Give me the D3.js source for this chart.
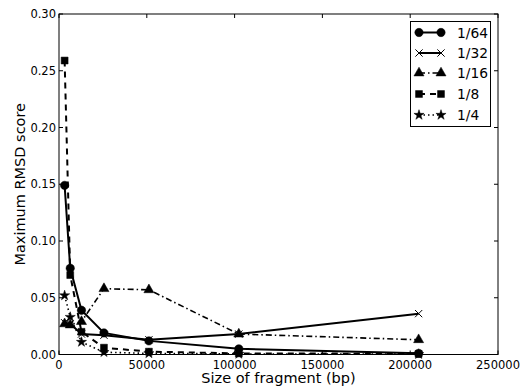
<!DOCTYPE html>
<html>
<head>
<meta charset="utf-8">
<script src="https://cdn.jsdelivr.net/npm/d3@7"></script>
<style>
    body { margin: 0; background: #fff; }
    svg { display: block; font-family: "DejaVu Sans", sans-serif; }
    .tick-label { font-size: 11.5px; fill: #000; }
    .axis-title { font-size: 14.5px; fill: #000; }
    .legend-label { font-size: 13.8px; fill: #000; }
</style>
</head>
<body>
<div id="chart"></div>
<script>
// fragment sizes (bp)
const fragmentSizes = [3200, 6400, 12800, 25600, 51200, 102400, 204800];

const seriesNames = ["1/64", "1/32", "1/16", "1/8", "1/4"];

const values64 = [0.149, 0.076, 0.039, 0.019, 0.012, 0.005, 0.001];
const values32 = [0.028, 0.027, 0.018, 0.017, 0.013, 0.018, 0.036];
const values16 = [0.027, 0.026, 0.029, 0.058, 0.057, 0.018, 0.013];
const values8 = [0.259, 0.070, 0.020, 0.006, 0.0025, 0.001, 0.0006];
const values4 = [0.052, 0.033, 0.011, 0.002, 0.001, 0.0005, 0.0003];

const xTicks = [0, 50000, 100000, 150000, 200000, 250000];
const yTicks = [0, 0.05, 0.10, 0.15, 0.20, 0.25, 0.30];

const seriesStyles = [
    { values: values64, symbol: "circle", dash: null, width: 2 },
    { values: values32, symbol: "times", dash: null, width: 2 },
    { values: values16, symbol: "triangle", dash: "6,3,1.5,3", width: 1.6 },
    { values: values8, symbol: "square", dash: "6,5", width: 2 },
    { values: values4, symbol: "star", dash: "1.5,3", width: 1.6 }
];

const width = 530;
const height = 389;
const margin = { top: 14, right: 32, bottom: 34.5, left: 59 };

const svg = d3.select("#chart")
    .append("svg")
    .attr("width", width)
    .attr("height", height);

const x = d3.scaleLinear()
    .domain([0, 250000])
    .range([margin.left, width - margin.right]);

const y = d3.scaleLinear()
    .domain([0, 0.30])
    .range([height - margin.bottom, margin.top]);

const plotLeft = x.range()[0];
const plotRight = x.range()[1];
const plotTop = y.range()[1];
const plotBottom = y.range()[0];

function symbolPath(name, size) {
    const types = {
        circle: d3.symbolCircle,
        square: d3.symbolSquare,
        triangle: d3.symbolTriangle,
        star: d3.symbolStar,
        times: d3.symbolTimes || d3.symbolX || d3.symbolCross
    };
    return d3.symbol().type(types[name]).size(size)();
}

function symbolSize(name) {
    if (name === "circle") return 55;
    if (name === "square") return 48;
    if (name === "triangle") return 44;
    if (name === "star") return 32;
    return 36;
}

function drawMarker(g, name, cx, cy) {
    const isStroke = name === "times";
    g.append("path")
        .attr("d", symbolPath(name, symbolSize(name)))
        .attr("transform", "translate(" + cx + "," + cy + ")")
        .attr("fill", isStroke ? "none" : "#000")
        .attr("stroke", "#000")
        .attr("stroke-width", isStroke ? 1 : 0.5);
}

// series
const line = d3.line()
    .x(function(d) { return x(d[0]); })
    .y(function(d) { return y(d[1]); });

const plot = svg.append("g");

seriesStyles.forEach(function(s) {
    const pts = fragmentSizes.map(function(f, i) { return [f, s.values[i]]; });
    plot.append("path")
        .datum(pts)
        .attr("d", line)
        .attr("fill", "none")
        .attr("stroke", "#000")
        .attr("stroke-width", s.width)
        .attr("stroke-dasharray", s.dash);
});

seriesStyles.forEach(function(s) {
    fragmentSizes.forEach(function(f, i) {
        drawMarker(plot, s.symbol, x(f), y(s.values[i]));
    });
});

// frame
svg.append("rect")
    .attr("x", plotLeft)
    .attr("y", plotTop)
    .attr("width", plotRight - plotLeft)
    .attr("height", plotBottom - plotTop)
    .attr("fill", "none")
    .attr("stroke", "#000")
    .attr("stroke-width", 1);

// ticks (inward, all four sides)
const tickLen = 4;
xTicks.forEach(function(t) {
    svg.append("line")
        .attr("x1", x(t)).attr("x2", x(t))
        .attr("y1", plotBottom).attr("y2", plotBottom - tickLen)
        .attr("stroke", "#000");
    svg.append("line")
        .attr("x1", x(t)).attr("x2", x(t))
        .attr("y1", plotTop).attr("y2", plotTop + tickLen)
        .attr("stroke", "#000");
    svg.append("text")
        .attr("class", "tick-label")
        .attr("x", x(t))
        .attr("y", plotBottom + 14)
        .attr("text-anchor", "middle")
        .text(t);
});

yTicks.forEach(function(t) {
    svg.append("line")
        .attr("x1", plotLeft).attr("x2", plotLeft + tickLen)
        .attr("y1", y(t)).attr("y2", y(t))
        .attr("stroke", "#000");
    svg.append("line")
        .attr("x1", plotRight).attr("x2", plotRight - tickLen)
        .attr("y1", y(t)).attr("y2", y(t))
        .attr("stroke", "#000");
    svg.append("text")
        .attr("class", "tick-label")
        .attr("x", plotLeft - 3)
        .attr("y", y(t) + 4)
        .attr("text-anchor", "end")
        .text(d3.format(".2f")(t));
});

// axis titles
svg.append("text")
    .attr("class", "axis-title")
    .attr("x", (plotLeft + plotRight) / 2)
    .attr("y", height - 6)
    .attr("text-anchor", "middle")
    .text("Size of fragment (bp)");

svg.append("text")
    .attr("class", "axis-title")
    .attr("transform", "translate(25," + (plotTop + plotBottom) / 2 + ") rotate(-90)")
    .attr("text-anchor", "middle")
    .text("Maximum RMSD score");

// legend
const legend = svg.append("g");
legend.append("rect")
    .attr("x", 410.5)
    .attr("y", 21.5)
    .attr("width", 80)
    .attr("height", 105)
    .attr("fill", "#fff")
    .attr("stroke", "#000")
    .attr("stroke-width", 1);

const legendRows = [32.5, 53, 73, 94, 115];
seriesStyles.forEach(function(s, i) {
    const ly = legendRows[i];
    legend.append("line")
        .attr("x1", 419).attr("x2", 441)
        .attr("y1", ly).attr("y2", ly)
        .attr("stroke", "#000")
        .attr("stroke-width", s.width)
        .attr("stroke-dasharray", s.dash);
    drawMarker(legend, s.symbol, 419, ly);
    drawMarker(legend, s.symbol, 441, ly);
    legend.append("text")
        .attr("class", "legend-label")
        .attr("x", 457)
        .attr("y", ly + 5)
        .text(seriesNames[i]);
});
</script>
</body>
</html>
